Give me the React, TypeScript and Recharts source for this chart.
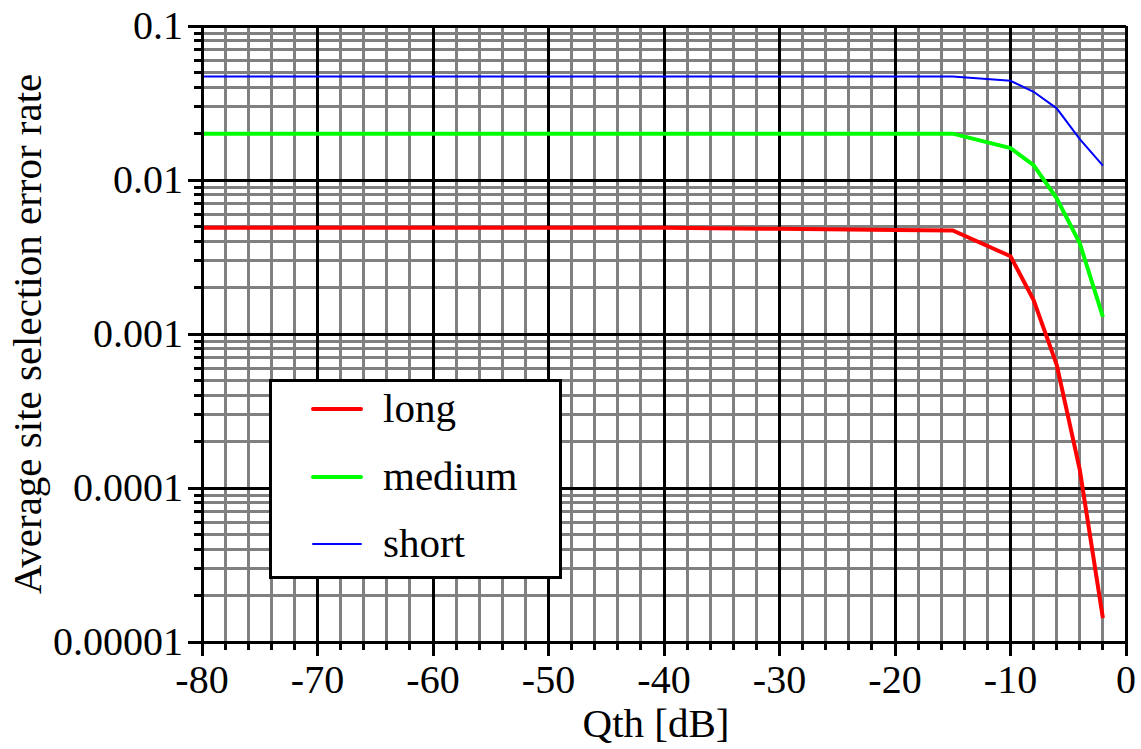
import React from 'react';
import { LineChart, Line, XAxis, YAxis, CartesianGrid, ReferenceLine, Legend } from 'recharts';

// ---- data ----
const qth = [-80, -70, -60, -50, -40, -30, -20, -15, -10, -8, -6, -4, -2];
const longErr = [0.0049, 0.0049, 0.0049, 0.0049, 0.0049, 0.00482, 0.00473, 0.0047, 0.0032, 0.00166, 0.00063, 0.000131, 0.0000143];
const mediumErr = [0.02, 0.02, 0.02, 0.02, 0.02, 0.02, 0.02, 0.02, 0.0161, 0.0125, 0.0076, 0.00388, 0.00129];
const shortErr = [0.047, 0.047, 0.047, 0.047, 0.047, 0.047, 0.047, 0.047, 0.0441, 0.0374, 0.0292, 0.0184, 0.0124];

const seriesNames = ['long', 'medium', 'short'];
const seriesColors = ['#ff0000', '#00ff00', '#0000ff'];
const seriesWidths = [4, 4, 2];

// ---- ticks ----
const xMajor = [-80, -70, -60, -50, -40, -30, -20, -10, 0];
const xMajorLabels = ['-80', '-70', '-60', '-50', '-40', '-30', '-20', '-10', '0'];
const xAllTicks = [-80, -78, -76, -74, -72, -70, -68, -66, -64, -62, -60, -58, -56, -54, -52, -50, -48, -46, -44, -42, -40, -38, -36, -34, -32, -30, -28, -26, -24, -22, -20, -18, -16, -14, -12, -10, -8, -6, -4, -2, 0];
const yMajor = [0.00001, 0.0001, 0.001, 0.01, 0.1];
const yMajorLabels = ['0.00001', '0.0001', '0.001', '0.01', '0.1'];
const yMultipliers = [2, 3, 4, 5, 6, 7, 8, 9];

const yMinor: number[] = [];
yMajor.slice(0, 4).forEach((d) => yMultipliers.forEach((m) => yMinor.push(d * m)));
const yAllTicks = [...yMajor, ...yMinor].sort((a, b) => a - b);
const xMinor = xAllTicks.filter((v) => !xMajor.includes(v));

const data = qth.map((q, i) => ({ qth: q, long: longErr[i], medium: mediumErr[i], short: shortErr[i] }));

const FONT = '"Liberation Serif", "Times New Roman", Times, serif';
const TICK_FS = 40;
const TITLE_FS = 41;

const findMajorY = (v: number) => yMajor.findIndex((m) => Math.abs(m - v) / m < 1e-6);

const YTick = (props: any) => {
  const { x, y, payload } = props;
  const idx = findMajorY(payload.value);
  const major = idx >= 0;
  return (
    <g>
      <line x1={x - (major ? 14 : 8)} x2={x} y1={y} y2={y} stroke="#000" strokeWidth={3} shapeRendering="crispEdges" />
      {major && (
        <text x={x - 19} y={y + 13} textAnchor="end" fontSize={TICK_FS} fontFamily={FONT} fill="#000">
          {yMajorLabels[idx]}
        </text>
      )}
    </g>
  );
};

const XTick = (props: any) => {
  const { x, y, payload } = props;
  const idx = xMajor.indexOf(payload.value);
  const major = idx >= 0;
  return (
    <g>
      <line x1={x} x2={x} y1={y} y2={y + (major ? 14 : 8)} stroke="#000" strokeWidth={3} shapeRendering="crispEdges" />
      {major && (
        <text x={x} y={y + 51} textAnchor="middle" fontSize={TICK_FS} fontFamily={FONT} fill="#000">
          {xMajorLabels[idx]}
        </text>
      )}
    </g>
  );
};

const renderLegend = () => (
  <div
    style={{
      boxSizing: 'border-box',
      width: 293,
      height: 200,
      border: '3px solid #000',
      background: '#fff',
    }}
  >
    <svg width={287} height={194} style={{ display: 'block' }}>
      {seriesNames.map((n, i) => {
        const rowY = [27, 95, 162][i];
        return (
          <g key={n}>
            <line x1={41} x2={89} y1={rowY} y2={rowY} stroke={seriesColors[i]} strokeWidth={seriesWidths[i]} strokeLinecap="round" />
            <text x={111} y={rowY + 13} fontSize={TITLE_FS} fontFamily={FONT} fill="#000">
              {n}
            </text>
          </g>
        );
      })}
    </svg>
  </div>
);

export default function App() {
  return (
    <div style={{ position: 'absolute', left: 0, top: 0, width: 1141, height: 749, background: '#fff' }}>
      <LineChart width={1141} height={749} data={data} margin={{ top: 26, right: 15, left: 0, bottom: 0 }}>
        <CartesianGrid
          stroke="#808080"
          strokeWidth={3}
          shapeRendering="crispEdges"
          horizontalValues={yMinor}
          verticalValues={xMinor}
        />
        {xMajor.slice(1, 8).map((v) => (
          <ReferenceLine key={'vx' + v} x={v} stroke="#000" strokeWidth={3} shapeRendering="crispEdges" />
        ))}
        {yMajor.slice(1, 4).map((v) => (
          <ReferenceLine key={'hy' + v} y={v} stroke="#000" strokeWidth={3} shapeRendering="crispEdges" />
        ))}
        <ReferenceLine y={0.1} stroke="#000" strokeWidth={3} shapeRendering="crispEdges" />
        <ReferenceLine x={0} stroke="#000" strokeWidth={3} shapeRendering="crispEdges" />
        <XAxis
          dataKey="qth"
          type="number"
          domain={[-80, 0]}
          ticks={xAllTicks}
          interval={0}
          height={107}
          tickSize={0}
          tickMargin={0}
          tick={<XTick />}
          axisLine={{ stroke: '#000', strokeWidth: 3, shapeRendering: 'crispEdges' }}
          tickLine={false}
          label={{
            content: (p: any) => {
              const vb = p.viewBox;
              return (
                <text x={vb.x + vb.width / 2 - 8} y={vb.y + 95} textAnchor="middle" fontSize={TITLE_FS} fontFamily={FONT} fill="#000">
                  Qth [dB]
                </text>
              );
            },
          }}
        />
        <YAxis
          type="number"
          scale="log"
          domain={[0.00001, 0.1]}
          allowDataOverflow
          ticks={yAllTicks}
          interval={0}
          width={202}
          tickSize={0}
          tickMargin={0}
          tick={<YTick />}
          axisLine={{ stroke: '#000', strokeWidth: 3, shapeRendering: 'crispEdges' }}
          tickLine={false}
          label={{
            content: (p: any) => {
              const vb = p.viewBox;
              const cy = vb.y + vb.height / 2;
              return (
                <text x={41} y={cy} transform={`rotate(-90 41 ${cy})`} textAnchor="middle" fontSize={TITLE_FS} fontFamily={FONT} fill="#000">
                  Average site selection error rate
                </text>
              );
            },
          }}
        />
        {seriesNames.map((n, i) => (
          <Line
            key={n}
            dataKey={n}
            name={n}
            type="linear"
            stroke={seriesColors[i]}
            strokeWidth={seriesWidths[i]}
            dot={false}
            activeDot={false}
            isAnimationActive={false}
          />
        ))}
        <Legend
          layout="vertical"
          align="center"
          verticalAlign="middle"
          wrapperStyle={{ left: 269, top: 379, width: 293, height: 200 }}
          content={renderLegend}
        />
      </LineChart>
    </div>
  );
}
